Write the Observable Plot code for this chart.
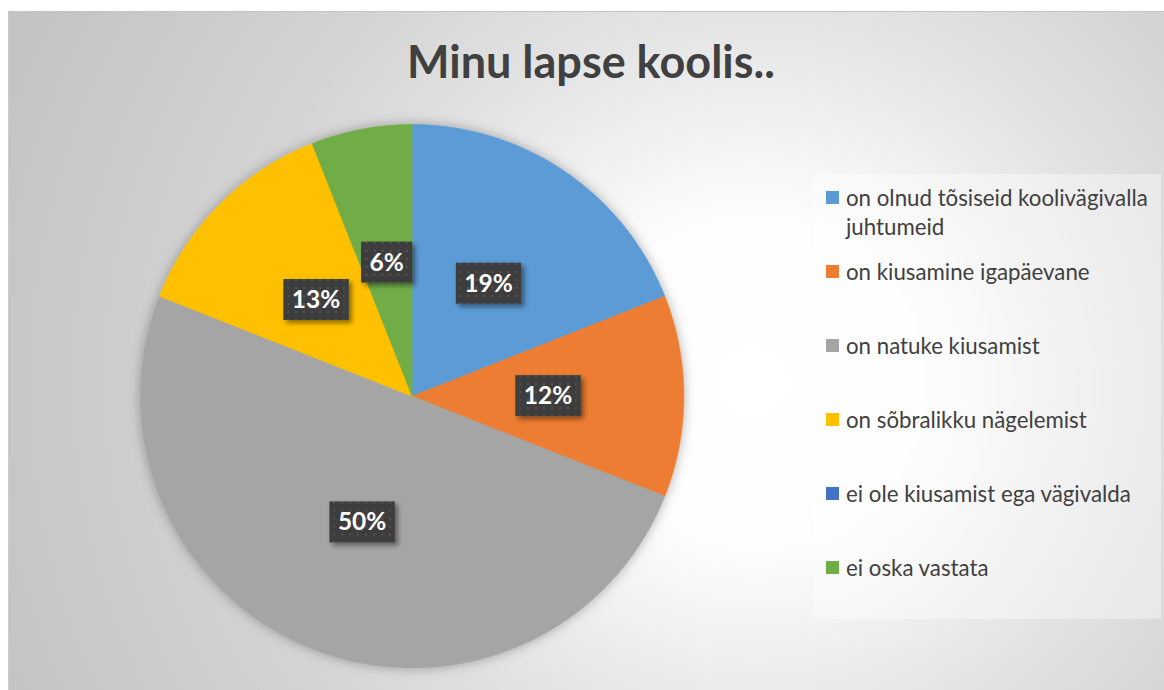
<!DOCTYPE html>
<html>
<head>
<meta charset="utf-8">
<script src="https://cdn.jsdelivr.net/npm/d3@7"></script>
<script src="https://cdn.jsdelivr.net/npm/@observablehq/plot@0.6"></script>
<style>
  html, body { margin: 0; padding: 0; background: #ffffff; }
  body { width: 1164px; height: 690px; overflow: hidden; position: relative; font-family: Lato, "Open Sans", sans-serif; }
  #frame { position: absolute; left: 8px; top: 11px; width: 1156px; height: 679px; box-sizing: border-box;
    border-top: 1px solid #c4c4c4; border-left: 1px solid #cccccc;
    background: radial-gradient(circle 830px at 745px 370px, #ffffff 0%, #fdfdfd 20%, #e3e3e3 45%, #d3d3d3 65%, #c2c2c2 100%); }
  #title { position: absolute; left: 0; top: 0; width: 1164px; height: 100px; margin-left: -8px; text-align: center;
    font-family: Lato, "Open Sans", sans-serif; font-weight: 700; color: #404040; white-space: nowrap; }
  #title span { position: absolute; top: 22px; left: 0; width: 1180px; text-align: center; }
  #chart { position: absolute; left: 0; top: 100px; }
  #legend { position: absolute; left: 805px; top: 162px; width: 347px; height: 445px; background: rgba(255,255,255,0.38); }
  .item { position: absolute; left: 12px; right: 0; }
  .sw { position: absolute; left: 0; width: 13px; height: 13px; }
  .lt { position: absolute; left: 20px; color: #404040; line-height: 29px; white-space: nowrap; }
</style>
</head>
<body>
<div id="frame">
  <div id="title"><span id="titletext"></span></div>
  <div id="chart"></div>
  <div id="legend"></div>
</div>
<script>
const title = "Minu lapse koolis..";
const categories = [
  "on olnud tõsiseid koolivägivalla juhtumeid",
  "on kiusamine igapäevane",
  "on natuke kiusamist",
  "on sõbralikku nägelemist",
  "ei ole kiusamist ega vägivalda",
  "ei oska vastata"
];
const values = [19, 12, 50, 13, 0, 6];
const colors = ["#5B9BD5", "#ED7D31", "#A5A5A5", "#FFC000", "#4472C4", "#70AD47"];

// font fitting helper (layout only)
const cv = document.createElement("canvas").getContext("2d");
function fitSize(text, weight, target) {
  cv.font = `${weight} 100px Lato, "Open Sans", sans-serif`;
  return 100 * target / cv.measureText(text).width;
}

// title
const tt = document.getElementById("titletext");
tt.textContent = title;
const tSize = fitSize(title, 700, 368);
tt.style.fontSize = tSize + "px";

// pie geometry derived from values
const total = d3.sum(values);
let acc = 0;
const slices = categories.map((c, i) => {
  const a0 = acc / total * 2 * Math.PI;
  acc += values[i];
  const a1 = acc / total * 2 * Math.PI;
  return {category: c, value: values[i], a0, a1, mid: (a0 + a1) / 2};
});
const outline = slices.filter(s => s.value > 0).flatMap(s => {
  const n = Math.max(2, Math.ceil((s.a1 - s.a0) / (Math.PI / 360)));
  const pts = [{category: s.category, x: 0, y: 0}];
  for (let k = 0; k <= n; k++) {
    const a = s.a0 + (s.a1 - s.a0) * k / n;
    pts.push({category: s.category, x: Math.sin(a), y: Math.cos(a)});
  }
  pts.push({category: s.category, x: 0, y: 0});
  return pts;
});
const labels = slices.filter(s => s.value > 0);

const plot = Plot.plot({
  width: 1156,
  height: 579,
  marginLeft: 131,
  marginRight: 481,
  marginTop: 12,
  marginBottom: 23,
  x: {domain: [-1, 1], axis: null},
  y: {domain: [-1, 1], axis: null},
  color: {domain: categories, range: colors},
  style: {background: "transparent", overflow: "visible"},
  marks: [
    Plot.line(outline, {x: "x", y: "y", z: "category", fill: "category", stroke: "category", strokeWidth: 0.6, curve: "linear"}),
    Plot.text(labels, {
      x: d => 0.5 * Math.sin(d.mid),
      y: d => 0.5 * Math.cos(d.mid),
      text: d => d.value + "%",
      fill: "white", fontSize: 24.5, fontWeight: "bold", fontFamily: "Lato, 'Open Sans', sans-serif"
    })
  ]
});
document.getElementById("chart").appendChild(plot);

// defs: pattern, shadows
const svg = d3.select(plot);
const defs = svg.insert("defs", ":first-child");
const pat = defs.append("pattern").attr("id", "dots").attr("patternUnits", "userSpaceOnUse").attr("width", 8).attr("height", 8);
pat.append("rect").attr("width", 8).attr("height", 8).attr("fill", "#3d3d3d");
pat.append("rect").attr("x", 3).attr("y", 3).attr("width", 2).attr("height", 2).attr("fill", "#545454");
const f1 = defs.append("filter").attr("id", "pieShadow").attr("x", "-20%").attr("y", "-20%").attr("width", "140%").attr("height", "140%");
f1.append("feDropShadow").attr("dx", 0).attr("dy", 0).attr("stdDeviation", 6).attr("flood-color", "#000").attr("flood-opacity", 0.3);
const f2 = defs.append("filter").attr("id", "boxShadow").attr("x", "-30%").attr("y", "-30%").attr("width", "160%").attr("height", "160%");
f2.append("feDropShadow").attr("dx", 3).attr("dy", 3).attr("stdDeviation", 2.5).attr("flood-color", "#000").attr("flood-opacity", 0.45);

svg.select('g[aria-label="line"]').attr("filter", "url(#pieShadow)");

const tg = svg.select('g[aria-label="text"]');
tg.selectAll("text").each(function() {
  const b = this.getBBox();
  const cx = b.x + b.width / 2, cy = b.y + b.height / 2;
  const w = b.width + 17, h = 41;
  d3.select(this.parentNode).insert("rect", () => this)
    .attr("transform", this.getAttribute("transform"))
    .attr("x", cx - w / 2).attr("y", cy - h / 2 + 1).attr("width", w).attr("height", h)
    .attr("fill", "url(#dots)").attr("filter", "url(#boxShadow)");
});

// legend
const legend = document.getElementById("legend");
const lSize = fitSize("on olnud tõsiseid koolivägivalla", 400, 302);
const centers = [23, 97, 171, 245, 319, 393];
categories.forEach((c, i) => {
  const it = document.createElement("div");
  it.className = "item";
  it.style.top = (centers[i] - 14.5) + "px";
  const sw = document.createElement("div");
  sw.className = "sw";
  sw.style.top = "8px";
  sw.style.background = colors[i];
  const lt = document.createElement("div");
  lt.className = "lt";
  lt.style.fontSize = lSize + "px";
  if (i === 0) {
    lt.innerHTML = "on olnud tõsiseid koolivägivalla<br>juhtumeid";
  } else {
    lt.textContent = c;
  }
  it.appendChild(sw);
  it.appendChild(lt);
  legend.appendChild(it);
});
</script>
</body>
</html>
